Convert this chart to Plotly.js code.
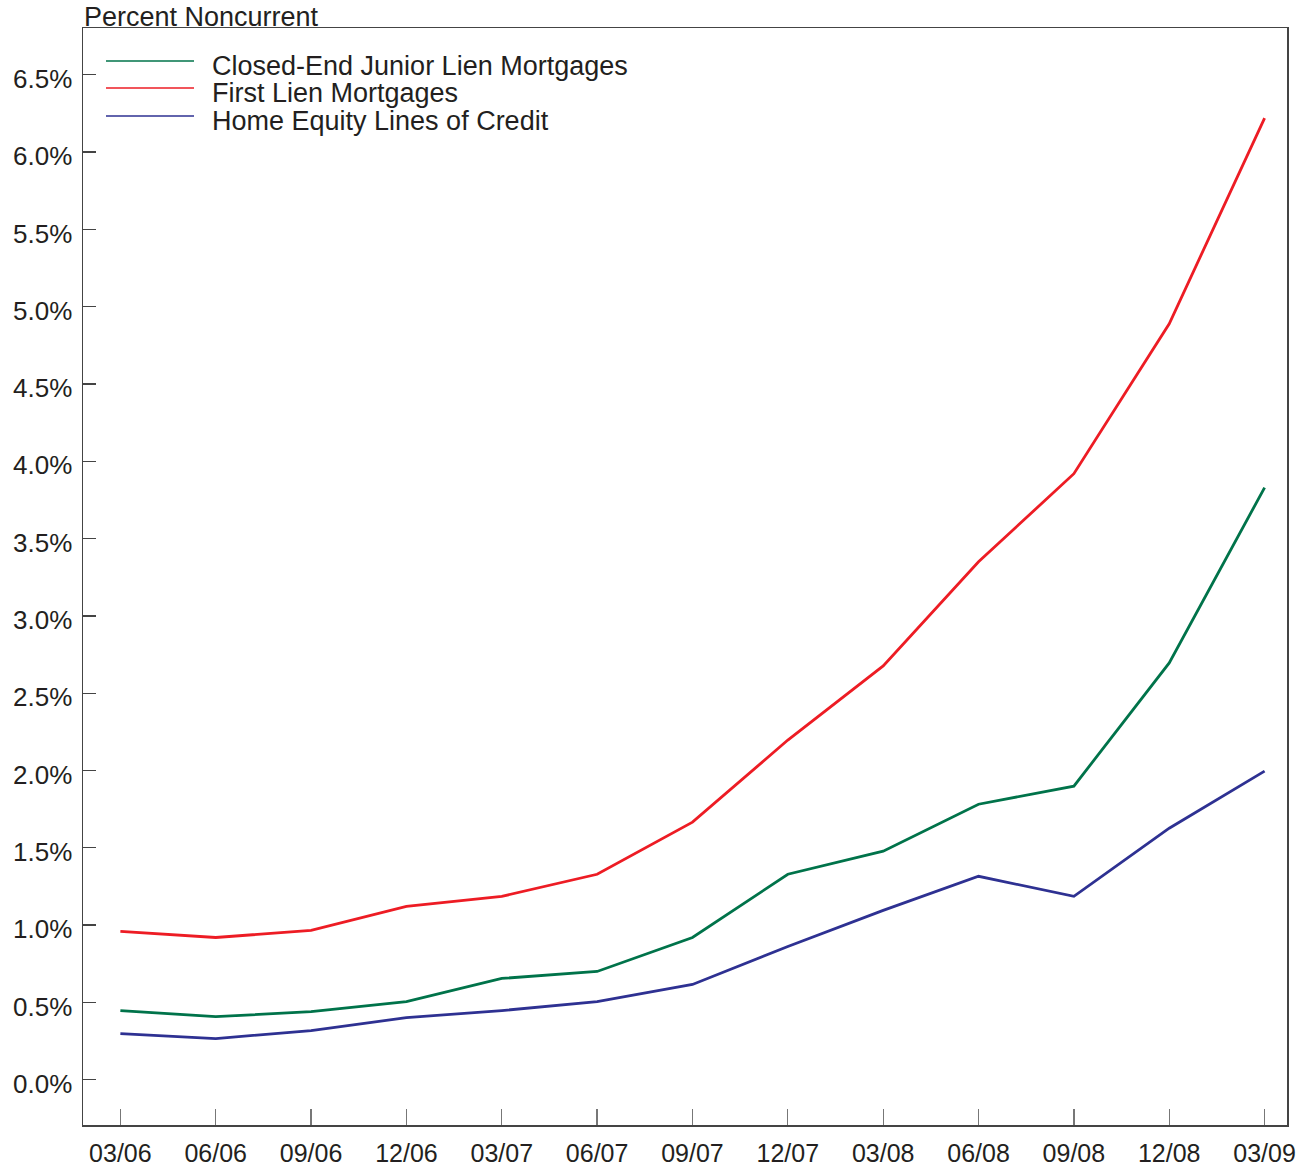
<!DOCTYPE html>
<html>
<head>
<meta charset="utf-8">
<script src="https://cdn.plot.ly/plotly-3.0.1.min.js"></script>
<style>html,body{margin:0;padding:0;background:#fff;}#chart{width:1309px;height:1169px;}</style>
</head>
<body>
<div id="chart"></div>
<script>
const quarters = ["03/06","06/06","09/06","12/06","03/07","06/07","09/07","12/07","03/08","06/08","09/08","12/08","03/09"];
const seriesNames = ["Closed-End Junior Lien Mortgages","First Lien Mortgages","Home Equity Lines of Credit"];
const closedEndJunior = [0.447,0.408,0.44,0.505,0.655,0.70,0.92,1.329,1.478,1.782,1.899,2.696,3.83];
const firstLien = [0.959,0.92,0.966,1.121,1.186,1.329,1.666,2.197,2.677,3.35,3.92,4.89,6.22];
const homeEquity = [0.298,0.266,0.318,0.402,0.447,0.505,0.616,0.862,1.095,1.316,1.186,1.627,1.996];
const yTickVals = [0,0.5,1,1.5,2,2.5,3,3.5,4,4.5,5,5.5,6,6.5];
const yTickText = ["0.0%","0.5%","1.0%","1.5%","2.0%","2.5%","3.0%","3.5%","4.0%","4.5%","5.0%","5.5%","6.0%","6.5%"];
const colors = ["#00734A","#ED1C24","#2E3192"];
const allSeries = [closedEndJunior, firstLien, homeEquity];

const xIdx = quarters.map((q,i)=>i);
const traces = allSeries.map((vals,k)=>({
  type:"scatter", mode:"lines", x:xIdx, y:vals, name:seriesNames[k],
  line:{color:colors[k], width:2.8}, showlegend:false, hoverinfo:"skip"
}));

const fontFam = "Liberation Sans, Arial, sans-serif";
const W = 1309, H = 1169, L = 83, R = 22, T = 28, B = 44;
const pw = W-L-R, ph = H-T-B;
function px(x){return (x-L)/pw;}
function py(y){return 1-(y-T)/ph;}

const shapes = [];
const annotations = [];
const legendY = [61,88,116];
seriesNames.forEach((n,k)=>{
  shapes.push({type:"line", xref:"paper", yref:"paper", x0:px(106), x1:px(194), y0:py(legendY[k]), y1:py(legendY[k]), line:{color:colors[k], width:1.3}});
  annotations.push({xref:"paper", yref:"paper", x:px(210), y:py(legendY[k]+5), xanchor:"left", yanchor:"middle", text:n, showarrow:false, font:{family:fontFam, size:27, color:"#231f20"}});
});
annotations.push({xref:"paper", yref:"paper", x:px(82), y:py(17), xanchor:"left", yanchor:"middle", text:"Percent Noncurrent", showarrow:false, font:{family:fontFam, size:27, color:"#231f20"}});

const layout = {
  width:W, height:H,
  margin:{l:L, r:R, t:T, b:B, pad:0},
  paper_bgcolor:"#fff", plot_bgcolor:"#fff",
  showlegend:false,
  font:{family:fontFam, size:25, color:"#231f20"},
  xaxis:{
    range:[-0.392,12.235], tickmode:"array", tickvals:xIdx, ticktext:quarters,
    ticks:"inside", ticklen:16, tickwidth:1.3, tickcolor:"#777",
    showline:true, linecolor:"#444", linewidth:1.5, mirror:true,
    showgrid:false, zeroline:false, tickfont:{size:25}, ticklabelstandoff:5
  },
  yaxis:{
    range:[-0.293,6.803], tickmode:"array", tickvals:yTickVals, ticktext:yTickText,
    ticks:"inside", ticklen:13, tickwidth:1.3, tickcolor:"#444",
    showline:true, linecolor:"#444", linewidth:1.5, mirror:true,
    showgrid:false, zeroline:false, tickfont:{size:26}, ticklabelstandoff:4, ticklabelshift:4
  },
  shapes:shapes, annotations:annotations
};
Plotly.newPlot("chart", traces, layout, {staticPlot:true, displayModeBar:false});
</script>
</body>
</html>
